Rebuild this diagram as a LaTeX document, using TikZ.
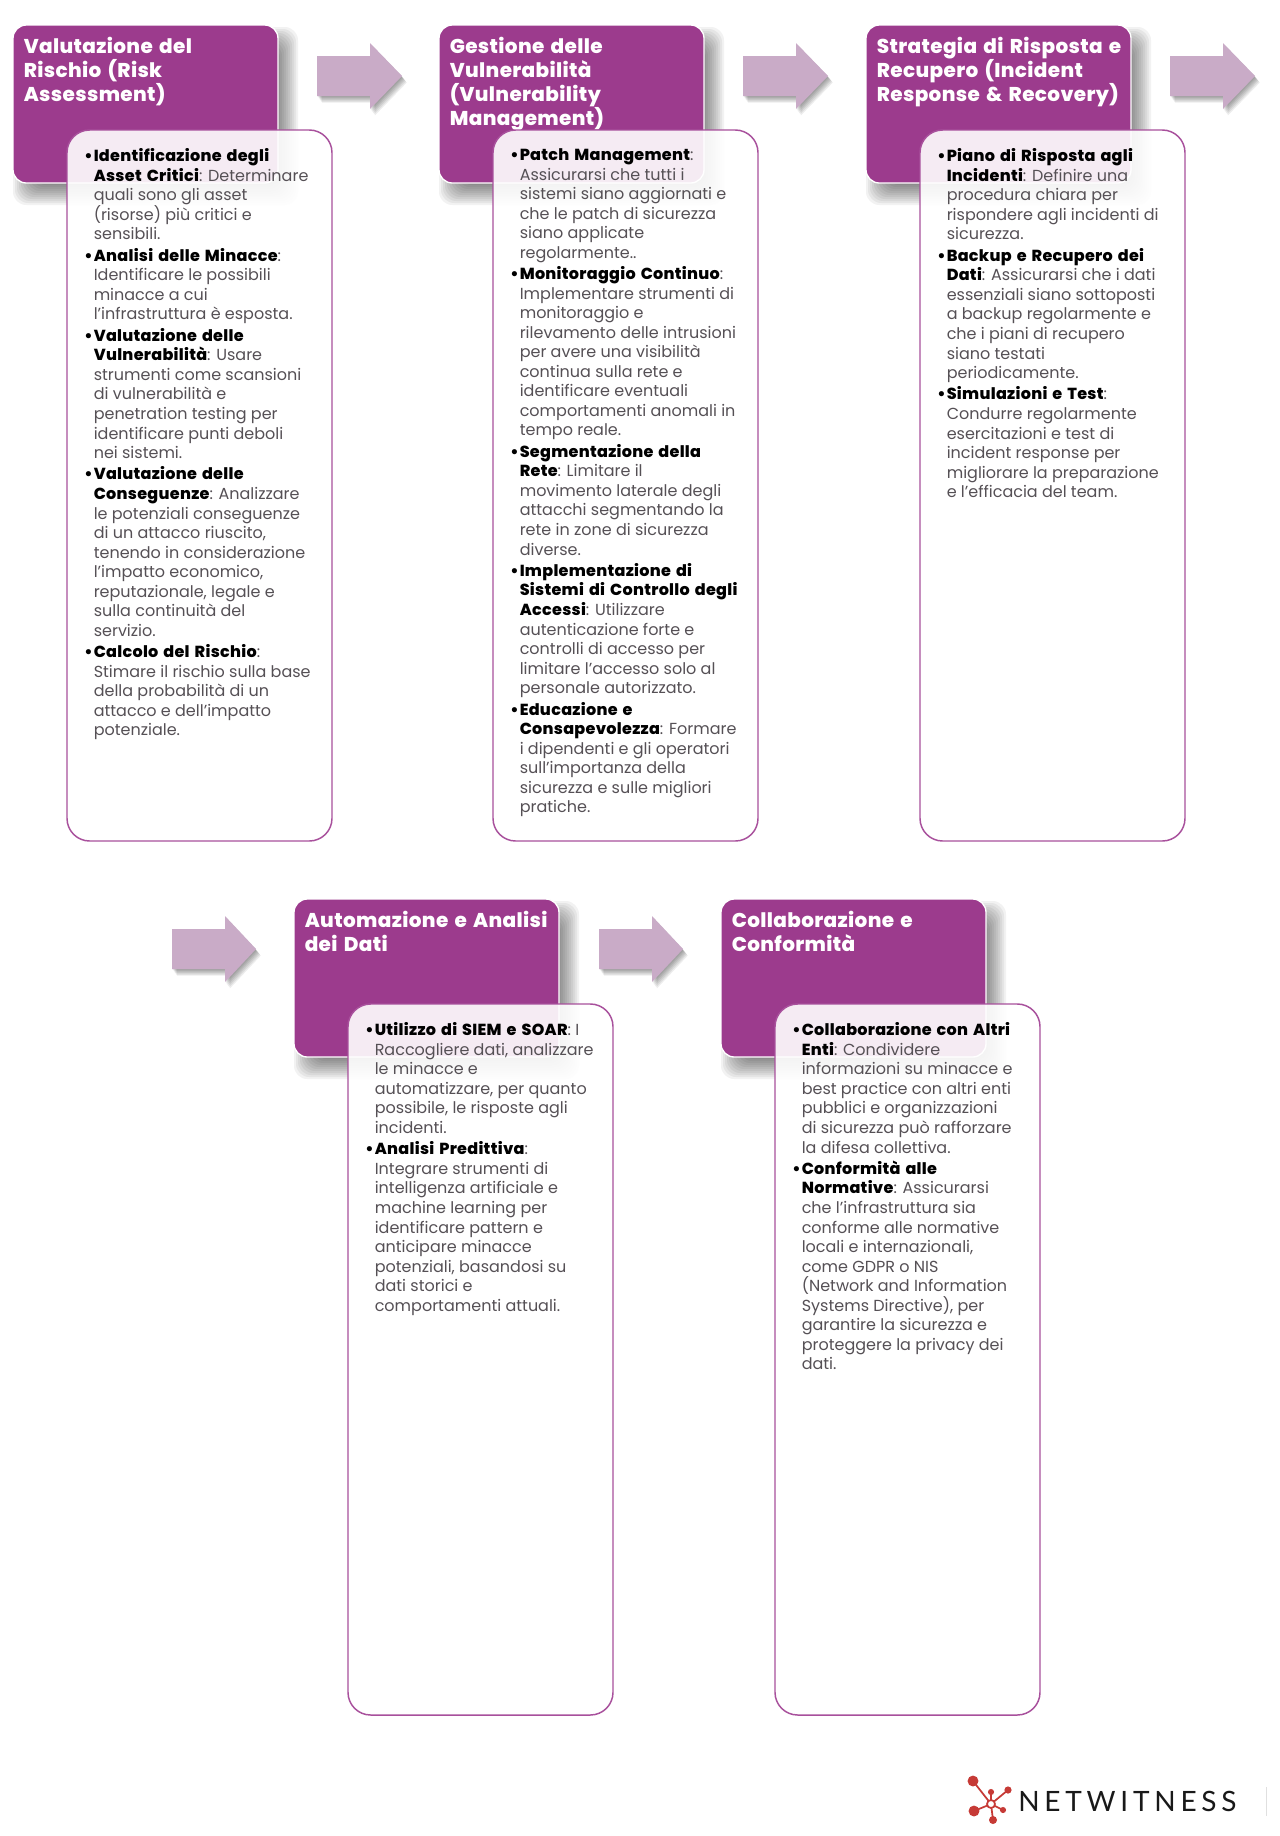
\documentclass[tikz,border=0pt]{standalone}
\usepackage{fontspec}
\setmainfont{Poppins}[BoldFont={Poppins ExtraBold},BoldFeatures={LetterSpace=1.8,WordSpace=1.5}]
\newfontfamily\logofont{Lato}[LetterSpace=17]
\usetikzlibrary{calc}
\definecolor{hdr}{HTML}{9C3B8D}
\definecolor{bord}{HTML}{A8509C}
\definecolor{arrowc}{HTML}{C9ABC7}
\definecolor{bodyt}{HTML}{555055}
\definecolor{logored}{HTML}{C63A36}
\tikzset{
  hdrbox/.style={fill=hdr,draw=white,line width=1pt,rounded corners=10pt},
  bodyfill/.style={fill=white,fill opacity=.9,rounded corners=17pt},
  bodyline/.style={draw=bord,line width=1.1pt,rounded corners=17pt},
  titletext/.style={anchor=north west,inner sep=0pt,align=left,text=white,font=\fontsize{15pt}{18pt}\selectfont\bfseries},
  bodytext/.style={anchor=north west,inner sep=0pt,align=left,text=bodyt,font=\fontsize{12pt}{14.65pt}\selectfont},
  arrowfill/.style={fill=arrowc},
  logoline/.style={draw=logored,line width=1.3pt},
  logodot/.style={fill=logored}
}
\newcommand{\softshadow}[5]{% x1 y1 x2 y2 corner
  \foreach \i in {-10,-8,...,10}{
    \fill[black,opacity=.05,rounded corners=#5]
      ({#1+10-\i},{#2+12-\i}) rectangle ({#3+10+\i},{#4+12+\i});
  }}
\newcommand{\B}[1]{{\color{black}\bfseries #1}}
\newcommand{\Bu}[1]{\llap{\color{black}\bfseries\textbullet\hspace{.8pt}}{\color{black}\bfseries #1}}
\newcommand{\pg}{\\[1.4pt]}
% name, x of header, y of header, title, body
\newcommand{\block}[5]{
  \softshadow{#2}{#3}{#2+265}{#3+158}{10pt}
  \path[hdrbox] (#2,#3) rectangle (#2+265,#3+158);
  \node[titletext] (#1t) at (#2+10.5,#3+12) {#4};
  \path[bodyfill] (#2+54,#3+105) rectangle (#2+319,#3+816);
  \path[bodyline] (#2+54,#3+105) rectangle (#2+319,#3+816);
  \node[bodytext] (#1b) at (#2+80.5,#3+123.5) {#5};
}
\newcommand{\blockarrow}[3]{% x y(center) length
  \foreach \s in {1,...,6}{
    \fill[black,opacity=.07,shift={({#1+\s*.8},{#2+\s*1.1})}]
      (0,-20) -- (53,-20) -- (53,-33) -- (#3,0) -- (53,33) -- (53,20) -- (0,20) -- cycle;
  }
  \path[arrowfill,shift={(#1,#2)}]
      (0,-20) -- (53,-20) -- (53,-33) -- (#3,0) -- (53,33) -- (53,20) -- (0,20) -- cycle;
}
\begin{document}
\begin{tikzpicture}[x=0.75pt,y=-0.75pt]
\useasboundingbox (0,0) rectangle (1280,1836);
\fill[white] (0,0) rectangle (1280,1836);
\blockarrow{317}{76}{85}
\blockarrow{743}{76}{85}
\blockarrow{1170}{76}{85}
\blockarrow{172}{949}{84}
\blockarrow{599}{949}{84}

\block{a}{13}{25}{Valutazione del\\Rischio (Risk\\Assessment)}{%
\Bu{Identificazione degli}\\
\B{Asset Critici}: Determinare\\
quali sono gli asset\\
(risorse) più critici e\\
sensibili.\pg
\Bu{Analisi delle Minacce}:\\
Identificare le possibili\\
minacce a cui\\
l'infrastruttura è esposta.\pg
\Bu{Valutazione delle}\\
\B{Vulnerabilità}: Usare\\
strumenti come scansioni\\
di vulnerabilità e\\
penetration testing per\\
identificare punti deboli\\
nei sistemi.\pg
\Bu{Valutazione delle}\\
\B{Conseguenze}: Analizzare\\
le potenziali conseguenze\\
di un attacco riuscito,\\
tenendo in considerazione\\
l'impatto economico,\\
reputazionale, legale e\\
sulla continuità del\\
servizio.\pg
\Bu{Calcolo del Rischio}:\\
Stimare il rischio sulla base\\
della probabilità di un\\
attacco e dell’impatto\\
potenziale.}

\block{b}{439}{25}{Gestione delle\\Vulnerabilità\\(Vulnerability\\Management)}{%
\Bu{Patch Management}:\\
Assicurarsi che tutti i\\
sistemi siano aggiornati e\\
che le patch di sicurezza\\
siano applicate\\
regolarmente..\pg
\Bu{Monitoraggio Continuo}:\\
Implementare strumenti di\\
monitoraggio e\\
rilevamento delle intrusioni\\
per avere una visibilità\\
continua sulla rete e\\
identificare eventuali\\
comportamenti anomali in\\
tempo reale.\pg
\Bu{Segmentazione della}\\
\B{Rete}: Limitare il\\
movimento laterale degli\\
attacchi segmentando la\\
rete in zone di sicurezza\\
diverse.\pg
\Bu{Implementazione di}\\
\B{Sistemi di Controllo degli}\\
\B{Accessi}: Utilizzare\\
autenticazione forte e\\
controlli di accesso per\\
limitare l'accesso solo al\\
personale autorizzato.\pg
\Bu{Educazione e}\\
\B{Consapevolezza}: Formare\\
i dipendenti e gli operatori\\
sull'importanza della\\
sicurezza e sulle migliori\\
pratiche.}

\block{c}{866}{25}{Strategia di Risposta e\\Recupero (Incident\\Response \& Recovery)}{%
\Bu{Piano di Risposta agli}\\
\B{Incidenti}: Definire una\\
procedura chiara per\\
rispondere agli incidenti di\\
sicurezza.\pg
\Bu{Backup e Recupero dei}\\
\B{Dati}: Assicurarsi che i dati\\
essenziali siano sottoposti\\
a backup regolarmente e\\
che i piani di recupero\\
siano testati\\
periodicamente.\pg
\Bu{Simulazioni e Test}:\\
Condurre regolarmente\\
esercitazioni e test di\\
incident response per\\
migliorare la preparazione\\
e l'efficacia del team.}

\block{d}{294}{899}{Automazione e Analisi\\dei Dati}{%
\Bu{Utilizzo di SIEM e SOAR}: I\\
Raccogliere dati, analizzare\\
le minacce e\\
automatizzare, per quanto\\
possibile, le risposte agli\\
incidenti.\pg
\Bu{Analisi Predittiva}:\\
Integrare strumenti di\\
intelligenza artificiale e\\
machine learning per\\
identificare pattern e\\
anticipare minacce\\
potenziali, basandosi su\\
dati storici e\\
comportamenti attuali.}

\block{e}{721}{899}{Collaborazione e\\Conformità}{%
\Bu{Collaborazione con Altri}\\
\B{Enti}: Condividere\\
informazioni su minacce e\\
best practice con altri enti\\
pubblici e organizzazioni\\
di sicurezza può rafforzare\\
la difesa collettiva.\pg
\Bu{Conformità alle}\\
\B{Normative}: Assicurarsi\\
che l’infrastruttura sia\\
conforme alle normative\\
locali e internazionali,\\
come GDPR o NIS\\
(Network and Information\\
Systems Directive), per\\
garantire la sicurezza e\\
proteggere la privacy dei\\
dati.}

% logo
\coordinate (lc) at (991,1804);
\coordinate (l1) at (973,1781);
\coordinate (l2) at (1008,1790);
\coordinate (l3) at (991,1792);
\coordinate (l4) at (1003,1810);
\coordinate (l5) at (974,1811);
\coordinate (l6) at (993,1820);
\foreach \n in {l1,l2,l3,l4,l5,l6}{\draw[logoline] (lc) -- (\n);}
\fill[logodot] (l1) circle (4.1pt);
\fill[logodot] (l2) circle (2.7pt);
\fill[logodot] (l3) circle (2.3pt);
\fill[logodot] (l4) circle (2.3pt);
\fill[logodot] (l5) circle (4.1pt);
\fill[logodot] (l6) circle (3pt);
\draw[logoline,fill=white] (lc) circle (3pt);
\node[anchor=base west,inner sep=0pt,text=black!90] (logo) at (1018,1811) {\logofont\fontsize{21pt}{22pt}\selectfont NETWITNESS};
\fill[black!12] (1265.5,1787) rectangle (1267,1816);
\end{tikzpicture}
\end{document}
